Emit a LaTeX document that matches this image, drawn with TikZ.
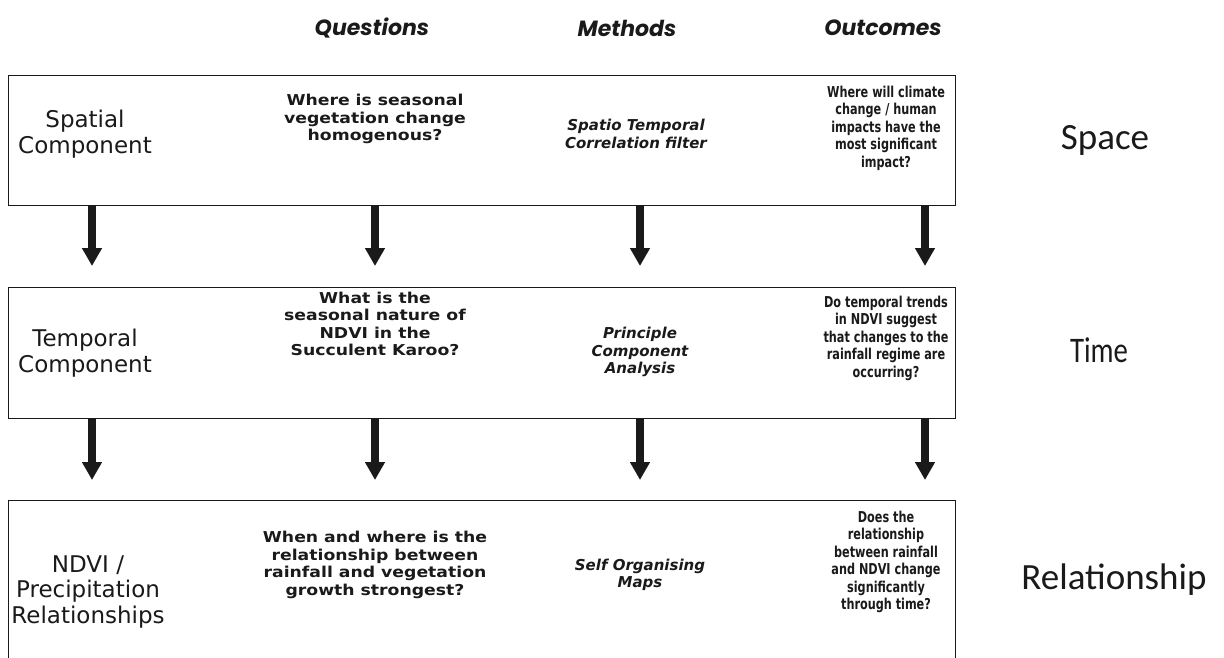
\documentclass[tikz,border=0pt]{standalone}
\usepackage{fontspec}
\usetikzlibrary{arrows.meta}
\setmainfont{DejaVu Sans}
\newfontfamily\hfont{Poppins}
\newfontfamily\lfont{DejaVu Sans}
\newfontfamily\qfont{DejaVu Sans}[FakeStretch=1.15]
\newfontfamily\mfont{DejaVu Sans}
\newfontfamily\ofont{DejaVu Sans}[FakeStretch=0.75]
\newfontfamily\rfont{Carlito}
\newfontfamily\tfont{Carlito}[FakeStretch=0.8]
\definecolor{ink}{HTML}{1A1A1A}
\tikzset{
  boxnode/.style={draw=ink, line width=1.4pt, inner sep=0pt, anchor=north west, rectangle},
  arr/.style={-{Triangle[width=19pt,length=18pt]}, line width=7.5pt, draw=ink},
  hdr/.style={text=ink, font=\hfont\fontsize{22}{26}\selectfont\bfseries\itshape},
  lab/.style={text=ink, align=center, font=\lfont\fontsize{23}{25.5}\selectfont},
  qtext/.style={text=ink, align=center, font=\qfont\fontsize{15}{17.5}\selectfont\bfseries},
  mtext/.style={text=ink, align=center, font=\mfont\fontsize{15}{17.5}\selectfont\bfseries\itshape},
  otext/.style={text=ink, align=center, font=\ofont\fontsize{15}{17.5}\selectfont\bfseries},
  side/.style={text=ink, font=\rfont\fontsize{37}{40}\selectfont},
  sidenarrow/.style={text=ink, font=\tfont\fontsize{36}{40}\selectfont}
}
\begin{document}
\begin{tikzpicture}[x=1pt,y=-1pt]
\clip (0,0) rectangle (1224,658);
\fill[white] (0,0) rectangle (1224,658);
% headers
\node[hdr] (hq) at (372,28) {Questions};
\node[hdr] (hm) at (627,28) {Methods};
\node[hdr] (ho) at (883,28) {Outcomes};
% boxes
\node[boxnode, minimum width=947pt, minimum height=130pt] (b1) at (8,75) {};
\node[boxnode, minimum width=947pt, minimum height=131pt] (b2) at (8,287) {};
\node[boxnode, minimum width=947pt, minimum height=175pt] (b3) at (8,500) {};
% column and tip coordinates
\coordinate (c1) at (92,0);
\coordinate (c2) at (375,0);
\coordinate (c3) at (640,0);
\coordinate (c4) at (925,0);
\coordinate (t1) at (0,266);
\coordinate (t2) at (0,480);
% arrows
\foreach \c in {c1,c2,c3,c4}{
  \draw[arr] (b1.south -| \c) -- (t1 -| \c);
  \draw[arr] (b2.south -| \c) -- (t2 -| \c);
}
% row 1
\node[lab] (l1) at (85,134) {Spatial\\Component};
\node[qtext] (q1) at (375,119) {Where is seasonal\\vegetation change\\homogenous?};
\node[mtext] (m1) at (636,134) {Spatio Temporal\\Correlation filter};
\node[otext] (o1) at (886,128) {Where will climate\\change / human\\impacts have the\\most significant\\impact?};
\node[side] (s1) at (1105,140) {Space};
% row 2
\node[lab] (l2) at (85,353) {Temporal\\Component};
\node[qtext] (q2) at (375,324) {What is the\\seasonal nature of\\NDVI in the\\Succulent Karoo?};
\node[mtext] (m2) at (640,352) {Principle\\Component\\Analysis};
\node[otext] (o2) at (886,338) {Do temporal trends\\in NDVI suggest\\that changes to the\\rainfall regime are\\occurring?};
\node[sidenarrow] (s2) at (1099,350) {Time};
% row 3
\node[lab] (l3) at (88,592) {NDVI /\\Precipitation\\Relationships};
\node[qtext] (q3) at (375,565) {When and where is the\\relationship between\\rainfall and vegetation\\growth strongest?};
\node[mtext] (m3) at (640,575) {Self Organising\\Maps};
\node[otext] (o3) at (886,562) {Does the\\relationship\\between rainfall\\and NDVI change\\significantly\\through time?};
\node[side] (s3) at (1114,580) {Relationship};
\end{tikzpicture}
\end{document}
